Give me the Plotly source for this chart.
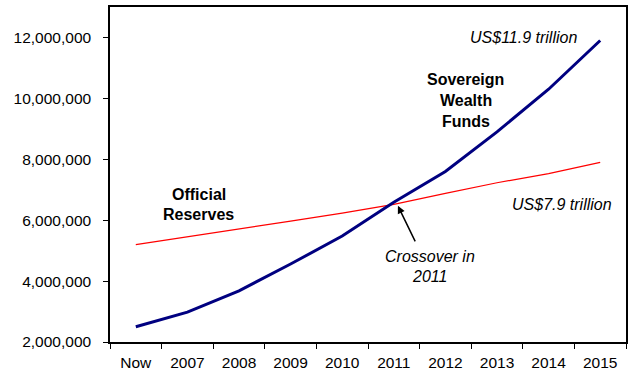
import plotly.graph_objects as go

categories = ["Now", "2007", "2008", "2009", "2010", "2011", "2012", "2013", "2014", "2015"]
swf_values = [2500000, 2980000, 3680000, 4560000, 5480000, 6590000, 7600000, 8900000, 10300000, 11900000]
reserves_values = [5200000, 5450000, 5700000, 5970000, 6230000, 6520000, 6880000, 7230000, 7530000, 7900000]
y_ticks = [2000000, 4000000, 6000000, 8000000, 10000000, 12000000]

FONT = "Liberation Sans, Arial, sans-serif"

fig = go.Figure()
fig.add_trace(go.Scatter(x=categories, y=reserves_values, mode="lines",
                         line=dict(color="#ff0000", width=1.2), name="Official Reserves"))
fig.add_trace(go.Scatter(x=categories, y=swf_values, mode="lines",
                         line=dict(color="#000080", width=3), name="Sovereign Wealth Funds"))

fig.update_layout(
    width=630, height=373,
    margin=dict(l=110, r=2, t=7, b=30),
    plot_bgcolor="white", paper_bgcolor="white",
    showlegend=False,
    font=dict(family=FONT, size=15, color="black"),
    xaxis=dict(type="category", range=[-0.5, 9.5], showgrid=False, showline=True,
               linecolor="black", linewidth=1.5, mirror=True, ticks="outside",
               tickson="boundaries", ticklen=5, tickcolor="black", ticklabelstandoff=6,
               tickfont=dict(family=FONT, size=15.5, color="black")),
    yaxis=dict(range=[2000000, 13000000], tickvals=y_ticks, tickformat=",d",
               showgrid=False, showline=True, linecolor="black", linewidth=1.5,
               mirror=True, ticks="outside", ticklen=5, tickcolor="black", ticklabelstandoff=9,
               zeroline=False, tickfont=dict(family=FONT, size=15.5, color="black")),
)

def note(x, y, text, italic=False, bold=False, size=16):
    t = text
    if bold:
        t = "<b>" + t + "</b>"
    if italic:
        t = "<i>" + t + "</i>"
    fig.add_annotation(x=x, y=y, xref="x", yref="y", text=t, showarrow=False,
                       font=dict(family=FONT, size=size, color="black"), align="center")

note(7.51, 12000000, "US$11.9 trillion", italic=True)
note(6.39, 10620000, "Sovereign", bold=True)
note(6.39, 9930000, "Wealth", bold=True)
note(6.39, 9240000, "Funds", bold=True)
note(1.22, 6850000, "Official", bold=True)
note(1.22, 6190000, "Reserves", bold=True)
note(8.26, 6520000, "US$7.9 trillion", italic=True)
note(5.70, 4820000, "Crossover in", italic=True)
note(5.70, 4160000, "2011", italic=True)

fig.add_annotation(x=5.08, y=6470000, xref="x", yref="y", text="", showarrow=True,
                   ax=18, ay=37, arrowhead=2, arrowsize=1, arrowwidth=1.5, arrowcolor="black")

fig.write_html("out.html")
